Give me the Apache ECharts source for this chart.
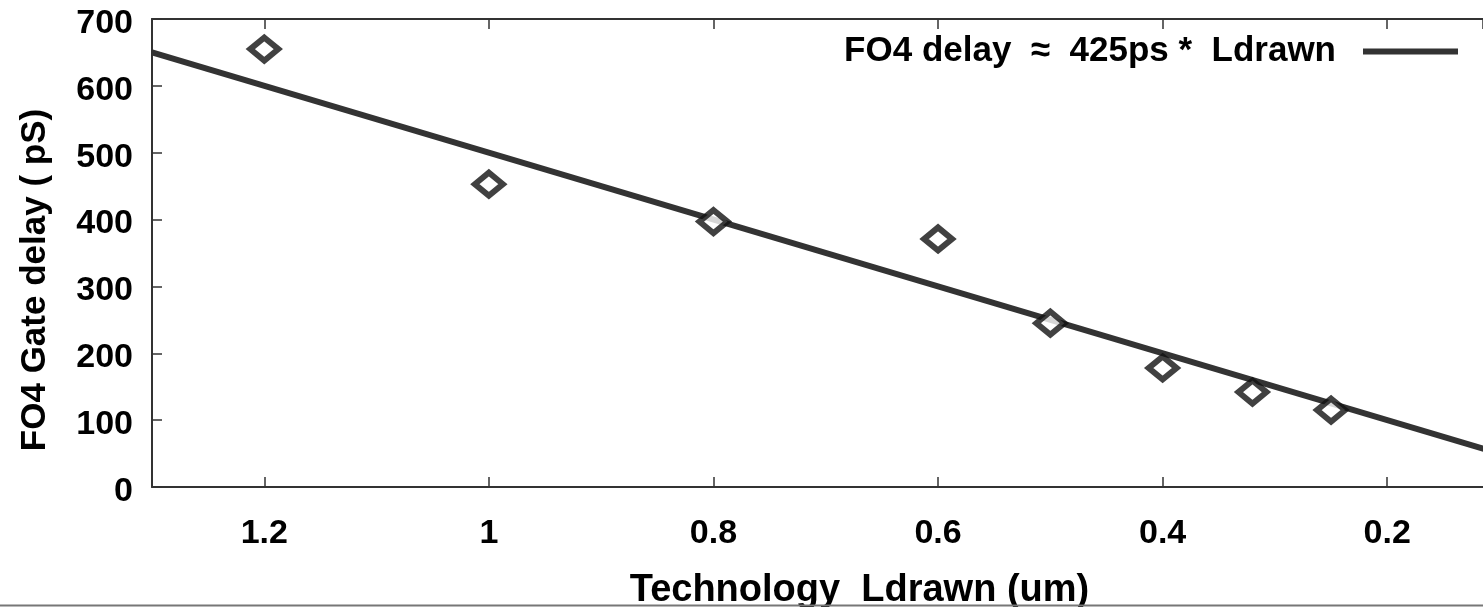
<!DOCTYPE html>
<html>
<head>
<meta charset="utf-8">
<script src="https://cdn.jsdelivr.net/npm/echarts@6/dist/echarts.min.js"></script>
<style>
  html, body { margin: 0; padding: 0; background: #fff; }
  #chart { width: 1483px; height: 607px; }
</style>
</head>
<body>
<div id="chart"></div>
<script>
// measured FO4 delays per technology node
let nodes = [1.2, 1.0, 0.8, 0.6, 0.5, 0.4, 0.32, 0.25];
let delays = [655, 453, 397, 371, 245, 178, 142, 115];

// fitted line, two end points
let fitX = [1.3, 0.1];
let fitY = [650, 50];

let yTicks = [0, 100, 200, 300, 400, 500, 600, 700];

let fitName = "FO4 delay  \u2248  425ps *  Ldrawn";
let ink = "#333";
let font = "Liberation Sans, Arial, sans-serif";

let myChart = echarts.init(document.getElementById("chart"));

// the plot is cut at the right edge of the picture, a bit past 0.2
let xCommon = {
    type: "value",
    inverse: true,
    min: 0.1147,
    max: 1.3,
    splitNumber: 6,
    splitLine: {show: false},
    axisLine: {lineStyle: {color: ink, width: 2}},
    axisTick: {inside: true, length: 10, lineStyle: {color: ink, width: 1.5}}
};

let option = {
    backgroundColor: "#fff",
    animation: false,
    grid: {left: 152, top: 19, right: 0, bottom: 120, outerBoundsMode: "none"},
    legend: {
        data: [{name: fitName, icon: "rect"}],
        right: 25,
        top: 34,
        padding: 0,
        align: "right",
        itemWidth: 95,
        itemHeight: 6,
        itemGap: 0,
        textStyle: {fontFamily: font, fontWeight: "bold", fontSize: 35, color: "#000", padding: [0, 22, 0, 0]}
    },
    xAxis: [
        Object.assign({}, xCommon, {
            position: "bottom",
            name: "Technology  Ldrawn (um)",
            nameLocation: "middle",
            nameGap: 85,
            nameTextStyle: {fontFamily: font, fontWeight: "bold", fontSize: 38, color: "#000", padding: [0, 0, 0, 84]},
            axisLabel: {
                margin: 30,
                showMinLabel: false,
                showMaxLabel: false,
                fontFamily: font, fontWeight: "bold", fontSize: 34, color: "#000",
                formatter: function (v) { return String(+v.toFixed(1)); }
            }
        }),
        Object.assign({}, xCommon, {
            position: "top",
            axisLabel: {show: false}
        })
    ],
    yAxis: {
        type: "value",
        min: yTicks[0],
        max: yTicks[yTicks.length - 1],
        interval: 100,
        name: "FO4 Gate delay ( pS)",
        nameLocation: "middle",
        nameGap: 99,
        nameTextStyle: {fontFamily: font, fontWeight: "bold", fontSize: 35, color: "#000", padding: [0, 54, 0, 0]},
        splitLine: {show: false},
        axisLine: {show: true, lineStyle: {color: ink, width: 2}},
        axisTick: {inside: true, length: 10, lineStyle: {color: ink, width: 1.5}},
        axisLabel: {
            margin: 19,
            formatter: function (v) { return "{t|" + v + "}"; },
            rich: {t: {fontFamily: font, fontWeight: "bold", fontSize: 34, color: "#000", padding: [9, 0, 0, 0]}}
        }
    },
    series: [
        {
            name: fitName,
            type: "line",
            data: fitX.map((x, i) => [x, fitY[i]]),
            showSymbol: false,
            lineStyle: {color: ink, width: 6},
            itemStyle: {color: ink}
        },
        {
            name: "measured",
            type: "scatter",
            data: nodes.map((x, i) => [x, delays[i]]),
            symbol: "diamond",
            symbolSize: [28, 23],
            itemStyle: {color: "#fff", borderColor: "#111", borderWidth: 6},
            z: 3
        }
    ],
    graphic: [
        {
            type: "line",
            shape: {x1: 0, y1: 605.5, x2: 1483, y2: 605.5},
            style: {stroke: "#777", lineWidth: 2},
            z: 100
        }
    ]
};

myChart.setOption(option);
</script>
</body>
</html>
